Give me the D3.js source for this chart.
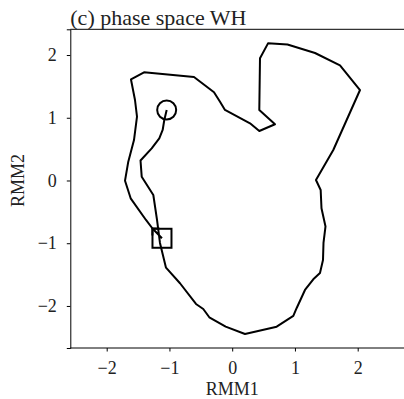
<!DOCTYPE html>
<html>
<head>
<meta charset="utf-8">
<script src="https://cdn.jsdelivr.net/npm/d3@7"></script>
<style>
  body { margin: 0; background: #fff; }
  text { font-family: "Liberation Serif", "DejaVu Serif", serif; fill: #222; }
</style>
</head>
<body>
<div id="chart"></div>
<script>
// trajectory in RMM phase space (starts at the square, ends at the circle)
var rmm1 = [-1.119, -1.270, -1.374, -1.618, -1.708, -1.656, -1.565, -1.517, -1.549, -1.613,
  -1.405, -0.609, -0.290, -0.194, -0.115, 0.284, 0.432, 0.682, 0.432, 0.443,
  0.571, 0.881, 1.320, 1.718, 2.037, 1.611, 1.335, 1.410, 1.423, 1.487,
  1.455, 1.447, 1.399, 1.292, 1.160, 1.028, 0.974, 0.709, 0.204, -0.104,
  -0.365, -0.461, -0.577, -0.832, -1.055, -1.151, -1.198, -1.257, -1.442, -1.461,
  -1.283, -1.162, -1.108, -1.082, -1.044];
var rmm2 = [-0.921, -0.765, -0.629, -0.284, -0.003, 0.300, 0.645, 1.017, 1.283, 1.610,
  1.724, 1.649, 1.406, 1.256, 1.124, 0.912, 0.789, 0.896, 1.124, 1.947,
  2.186, 2.167, 2.032, 1.836, 1.442, 0.486, 0.008, -0.151, -0.443, -0.733,
  -0.996, -1.267, -1.474, -1.575, -1.745, -2.032, -2.159, -2.330, -2.446, -2.330,
  -2.180, -2.048, -1.968, -1.638, -1.390, -0.996, -0.629, -0.231, 0.061, 0.319,
  0.513, 0.673, 0.805, 0.964, 1.124];
var xTicks = [-2, -1, 0, 1, 2];
var yTicks = [-2, -1, 0, 1, 2];
var title = "(c) phase space WH";

var W = 404, H = 399;
var margin = { top: 29.3, left: 70.3, bottom: 51 };
var x = d3.scaleLinear().domain([-2.58, 2.9]).range([margin.left, margin.left + 5.48 * 62.75]);
var y = d3.scaleLinear().domain([-2.67, 2.41]).range([H - margin.bottom, margin.top]);

var svg = d3.select("#chart").append("svg")
  .attr("width", W)
  .attr("height", H);

var pts = rmm1.map(function (v, i) { return [v, rmm2[i]]; });

// frame (right side is cut off by the figure)
svg.append("line")
  .attr("x1", x.range()[0]).attr("x2", W)
  .attr("y1", y.range()[1]).attr("y2", y.range()[1])
  .attr("stroke", "#000").attr("stroke-width", 1);

var fmt = function (d) { return d < 0 ? "\u2212" + Math.abs(d) : d; };
var gx = svg.append("g")
  .attr("transform", "translate(0," + y.range()[0] + ")")
  .call(d3.axisBottom(x).tickValues(xTicks).tickSizeOuter(0).tickSize(3.5).tickPadding(10).tickFormat(fmt));
var gy = svg.append("g")
  .attr("transform", "translate(" + x.range()[0] + ",0)")
  .call(d3.axisLeft(y).tickValues(yTicks).tickSizeOuter(0).tickSize(3.5).tickPadding(10).tickFormat(fmt));
[gx, gy].forEach(function (g) {
  g.selectAll("text").style("font-family", "Liberation Serif").style("font-size", "18px").attr("fill", "#222");
  g.selectAll("line").attr("stroke", "#000");
  g.select(".domain").attr("stroke", "#000");
});
gx.select(".domain").attr("d", "M" + x.range()[0] + ",0H" + W);

// trajectory
var line = d3.line().x(function (d) { return x(d[0]); }).y(function (d) { return y(d[1]); });
svg.append("path")
  .datum(pts)
  .attr("d", line)
  .attr("fill", "none")
  .attr("stroke", "#000")
  .attr("stroke-width", 2)
  .attr("stroke-linejoin", "round");

// arrow head showing the direction of the first step
var p0 = pts[0], p1 = pts[1];
var ax = x(p1[0]), ay = y(p1[1]);
var ang = Math.atan2(y(p0[1]) - ay, x(p0[0]) - ax);
var barb = 7;
svg.append("path")
  .attr("d", "M" + (ax + barb * Math.cos(ang - Math.PI / 4)) + "," + (ay + barb * Math.sin(ang - Math.PI / 4)) +
    "L" + ax + "," + ay +
    "L" + (ax + barb * Math.cos(ang + Math.PI / 4)) + "," + (ay + barb * Math.sin(ang + Math.PI / 4)))
  .attr("fill", "none")
  .attr("stroke", "#000")
  .attr("stroke-width", 2);

// start square and end circle
svg.append("rect")
  .attr("x", x(p0[0]) - 9.5)
  .attr("y", y(p0[1]) - 9.5)
  .attr("width", 19)
  .attr("height", 19)
  .attr("fill", "none")
  .attr("stroke", "#000")
  .attr("stroke-width", 2);
var pe = pts[pts.length - 1];
svg.append("circle")
  .attr("cx", x(pe[0]))
  .attr("cy", y(pe[1]))
  .attr("r", 9.5)
  .attr("fill", "none")
  .attr("stroke", "#000")
  .attr("stroke-width", 2);

// labels
svg.append("text")
  .attr("x", x.range()[0])
  .attr("y", 25)
  .style("font-size", "22px")
  .text(title);
svg.append("text")
  .attr("x", x(0))
  .attr("y", 395)
  .attr("text-anchor", "middle")
  .style("font-size", "18px")
  .text("RMM1");
svg.append("text")
  .attr("transform", "translate(24," + y(0) + ")rotate(-90)")
  .attr("text-anchor", "middle")
  .style("font-size", "18px")
  .text("RMM2");
</script>
</body>
</html>
